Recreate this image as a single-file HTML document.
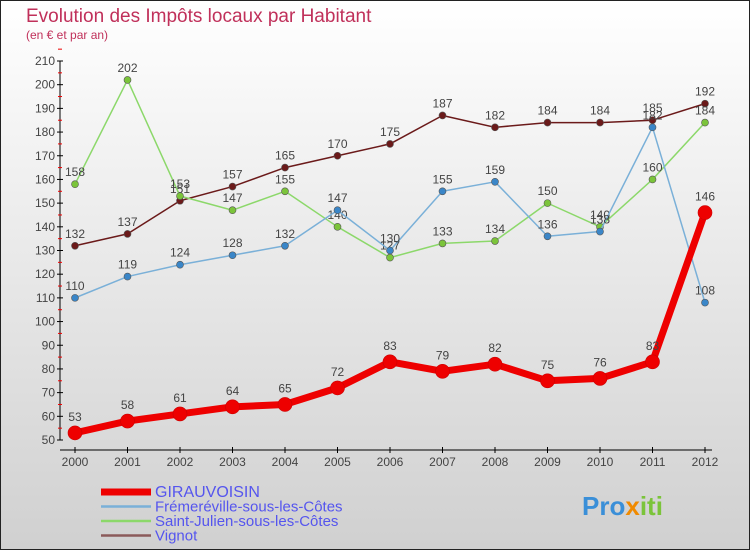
<!DOCTYPE html>
<html><head><meta charset="utf-8"><style>
body{margin:0}
svg{display:block;font-family:"Liberation Sans",sans-serif}
</style></head><body>
<svg id="c" width="750" height="550" xmlns="http://www.w3.org/2000/svg">
<defs><linearGradient id="bg" x1="0" y1="0" x2="0" y2="1"><stop offset="0" stop-color="#ffffff"/><stop offset="1" stop-color="#d0d0d0"/></linearGradient></defs>
<rect x="0.5" y="0.5" width="749" height="549" fill="url(#bg)" stroke="#222"/>
<text x="26" y="22" font-size="19" fill="#c0305a">Evolution des Impôts locaux par Habitant</text>
<text x="26" y="39" font-size="12" fill="#c0305a">(en € et par an)</text>
<g id="axes"></g>
<g id="series"></g>
<g id="legend"></g>
<text x="582" y="515" font-size="26" font-weight="bold" fill="#3a8fd8">Pro<tspan fill="#f08a00">x</tspan><tspan fill="#7bc43a">iti</tspan></text>
</svg>
<script>
const years=[2000,2001,2002,2003,2004,2005,2006,2007,2008,2009,2010,2011,2012];
const yTicks=[50,60,70,80,90,100,110,120,130,140,150,160,170,180,190,200,210];
const seriesNames=["GIRAUVOISIN","Frémeréville-sous-les-Côtes","Saint-Julien-sous-les-Côtes","Vignot"];
const girauvoisin=[53,58,61,64,65,72,83,79,82,75,76,83,146];
const fremereville=[110,119,124,128,132,147,130,155,159,136,138,182,108];
const saintJulien=[158,202,153,147,155,140,127,133,134,150,140,160,184];
const vignot=[132,137,151,157,165,170,175,187,182,184,184,185,192];

const NS="http://www.w3.org/2000/svg";
const X=i=>75+i*52.5;
const Y=v=>440-(v-50)*(379/160);
function mk(tag,attrs,parent){const e=document.createElementNS(NS,tag);for(const k in attrs)e.setAttribute(k,attrs[k]);parent.appendChild(e);return e;}
const ax=document.getElementById('axes');
let l=mk('line',{x1:60,y1:Y(210),x2:60,y2:440,stroke:'#000'},ax);


l=mk('line',{x1:60,y1:450,x2:712,y2:450,stroke:'#000'},ax);


yTicks.forEach(v=>{
  mk('line',{x1:57,y1:Y(v),x2:63,y2:Y(v),stroke:'#000'},ax);
  mk('line',{x1:58,y1:Y(v+5),x2:62,y2:Y(v+5),stroke:'#e00'},ax);
  const t=mk('text',{x:55,y:Y(v)+4,'font-size':12,'text-anchor':'end',fill:'#444'},ax);
  t.textContent=v;
  
  
});
years.forEach((y,i)=>{
  mk('line',{x1:X(i),y1:447,x2:X(i),y2:453,stroke:'#000'},ax);
  const t=mk('text',{x:X(i),y:466,'font-size':12,'text-anchor':'middle',fill:'#444'},ax);
  t.textContent=y;
  
  
});
const sg=document.getElementById('series');
const defs=[
 {d:vignot,c:'#6b1a1a',w:1.5,r:3.5,n:'vignot'},
 {d:saintJulien,c:'#8cd86a',w:1.5,r:3.5,fc:'#7bc43a',n:'saint-julien'},
 {d:fremereville,c:'#7ab0d8',w:1.5,r:3.5,fc:'#3a86c8',n:'fremereville'},
 {d:girauvoisin,c:'#ee0000',w:7,r:7,n:'girauvoisin'}
];
defs.forEach(s=>{
  const p=mk('polyline',{points:s.d.map((v,i)=>X(i)+','+Y(v)).join(' '),fill:'none',stroke:s.c,'stroke-width':s.w,'stroke-linejoin':'round'},sg);
  
  
  s.d.forEach((v,i)=>{
    const c=mk('circle',{cx:X(i),cy:Y(v),r:s.r,fill:s.fc||s.c,stroke:s.n==='girauvoisin'?'#c00':'#555','stroke-width':0.6},sg);
    
    
    const t=mk('text',{x:X(i),y:Y(v)-(s.n==='girauvoisin'?12:8),'font-size':12,'text-anchor':'middle',fill:'#444'},sg);
    t.textContent=v;
    
    
  });
});
const lg=document.getElementById('legend');
const lc=['#ee0000','#7ab0d8','#8cd86a','#8b5a5a'],lw=[7,2.5,2.5,2.5];
seriesNames.forEach((n,i)=>{
  const yy=492+i*14.5;
  const ln=mk('line',{x1:101,y1:yy,x2:151,y2:yy,stroke:lc[i],'stroke-width':lw[i]},lg);
  
  
  const t=mk('text',{x:155,y:yy+5,'font-size':i===0?16:15,fill:'#5555ee'},lg);
  t.textContent=n;
  
  
});
</script>
</body></html>
